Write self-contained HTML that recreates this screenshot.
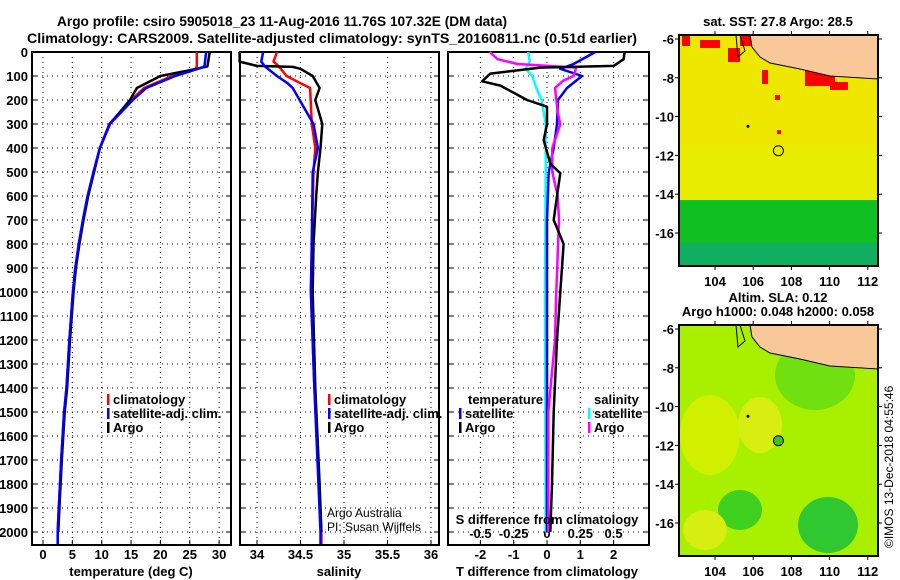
<!DOCTYPE html>
<html><head><meta charset="utf-8"><style>
html,body{margin:0;padding:0;background:#fff}
svg{display:block;font-family:"Liberation Sans",sans-serif}
.t{font-weight:bold;font-size:14px}
.tk{font-weight:bold;font-size:13px}
.g{stroke:#000;stroke-width:1;stroke-dasharray:1,4}
</style></head><body>
<svg id="c" width="900" height="580" viewBox="0 0 900 580">
<text class="t" x="57" y="26" textLength="450" lengthAdjust="spacingAndGlyphs">Argo profile: csiro 5905018_23 11-Aug-2016 11.76S 107.32E (DM data)</text>
<text class="t" x="27" y="43" textLength="610" lengthAdjust="spacingAndGlyphs">Climatology: CARS2009. Satellite-adjusted climatology: synTS_20160811.nc (0.51d earlier)</text>
<g id="p1"></g>
<g id="p2"></g>
<g id="p3"></g>
<g id="maps"></g>
<text x="0" y="0" transform="translate(893,548) rotate(-90)" style="font-size:12px">©IMOS 13-Dec-2018 04:55:46</text>
</svg>
<script>
// ---- data ----
const depthTicks=[0,100,200,300,400,500,600,700,800,900,1000,1100,1200,1300,1400,1500,1600,1700,1800,1900,2000];
const tempTicks=[0,5,10,15,20,25,30];
const salTicks=[34,34.5,35,35.5,36];
const salTickLabels=["34","34.5","35","35.5","36"];
const tdTicks=[-2,-1,0,1,2];
const sdTicks=[-0.5,-0.25,0,0.25,0.5];
const sdTickLabels=["-0.5","-0.25","0","0.25","0.5"];
// temperature profiles
const tArgoDepth=[0,60,70,100,150,200,300,400,500,600,700,800,900,1000,1200,1400,1500,1700,1900,2000];
const tArgo=[28.4,28.0,26.2,20.0,16.0,14.8,11.4,9.7,8.7,7.7,6.9,6.2,5.6,5.2,4.6,4.1,3.7,3.2,2.8,2.6];
const tClimDepth=[0,60,70,100,150,200,300,400,500,600,700,800,900,1000,1200,1400,1500,1700,1900,2000,2050];
const tClim=[26.2,26.2,26.0,22.0,17.2,15.0,11.3,9.7,8.6,7.6,6.8,6.1,5.5,5.1,4.5,4.0,3.6,3.1,2.7,2.5,2.5];
const tSat=[27.8,27.5,26.4,22.5,17.6,15.3,11.4,9.7,8.6,7.6,6.8,6.1,5.5,5.1,4.5,4.0,3.6,3.1,2.7,2.5,2.5];
// salinity profiles
const sArgoDepth=[0,40,58,62,70,100,150,200,300,400,500,600,800,1000,1400,1800,2000];
const sArgo=[33.8,33.8,34.0,34.41,34.5,34.64,34.72,34.67,34.75,34.73,34.7,34.68,34.65,34.64,34.67,34.72,34.74];
const sClimDepth=[0,40,60,100,130,150,300,400,500,800,1000,1400,2000,2050];
const sClim=[34.23,34.19,34.25,34.34,34.5,34.61,34.63,34.67,34.65,34.63,34.62,34.66,34.74,34.74];
const sSat=[34.07,34.05,34.09,34.23,34.35,34.41,34.65,34.7,34.64,34.63,34.62,34.66,34.73,34.73];
// difference profiles
const dTArgoDepth=[0,30,58,65,90,122,140,185,200,228,300,367,465,505,600,700,800,1000,1200,1500,1800,2000];
const dTArgo=[2.33,2.3,2.0,-0.2,-1.7,-1.95,-1.4,-0.8,-0.6,0,0,-0.1,0.1,0.4,0.3,0.2,0.5,0.4,0.3,0.2,0.15,0.1];
const dTSatDepth=[0,50,70,100,150,200,300,400,500,700,1000,2000];
const dTSat=[1.45,0.8,0.4,1.05,0.6,0.33,0.3,0.2,0.05,0,0,0];
const dSArgoDepth=[0,30,50,65,100,120,150,250,300,400,500,600,700,1000,1200,1500,2000];
const dSArgo=[-0.43,-0.37,-0.22,0.22,0.2,0.12,0.06,0.08,0.1,0.04,0.04,0.08,0.09,0.07,0.06,0.01,0.01];
const dSSatDepth=[0,40,70,100,150,200,300,500,1000,2000];
const dSSat=[-0.14,-0.13,-0.16,-0.11,-0.08,-0.04,-0.01,-0.01,-0.015,-0.01];

const NS="http://www.w3.org/2000/svg";
function mk(tag,attrs,parent,txt){const e=document.createElementNS(NS,tag);for(const k in attrs)e.setAttribute(k,attrs[k]);if(txt!==undefined)e.textContent=txt;parent.appendChild(e);return e;}
const yD=d=>52+d*0.24;
function panel(g,x0,x1,name){
  mk('rect',{x:x0,y:52,width:x1-x0,height:493,fill:'none',stroke:'#000','stroke-width':2},g);
  depthTicks.forEach(d=>{const l=mk('line',{x1:x0,x2:x1,y1:yD(d),y2:yD(d),class:'g'},g);
    
    mk('line',{x1:x0,x2:x0+5,y1:yD(d),y2:yD(d),stroke:'#000'},g);mk('line',{x1:x1-5,x2:x1,y1:yD(d),y2:yD(d),stroke:'#000'},g);});
}
function line(g,xs,ds,xf,col,name,w){
  const pts=xs.map((v,i)=>xf(v).toFixed(1)+','+yD(ds[i]).toFixed(1)).join(' ');
  const p=mk('polyline',{points:pts,fill:'none',stroke:col,'stroke-width':w||2.5,'stroke-linejoin':'round'},g);
  
  
}
function xticks(g,ticks,labels,xf,y,name){
  ticks.forEach((t,i)=>{const x=xf(t);
    const gl=mk('line',{x1:x,x2:x,y1:52,y2:545,class:'g'},g);
    
    mk('line',{x1:x,x2:x,y1:540,y2:545,stroke:'#000'},g);
    const tx=mk('text',{x:x,y:y,'text-anchor':'middle',class:'tk'},g,labels[i]);
    
    });
}
function legend(g,x,y,items){
  items.forEach((it,i)=>{const yy=y+i*14;
    mk('rect',{x:x,y:yy-10,width:2.5,height:11,fill:it[1]},g);
    const t=mk('text',{x:x+6,y:yy,class:'tk'},g,it[0]);
    
    });
}
// panel 1
const p1=document.getElementById('p1');
const xT=t=>43+t*5.87;
panel(p1,32,231,'temperature');
xticks(p1,tempTicks,tempTicks.map(String),xT,559,'temperature');
depthTicks.forEach(d=>{const t=mk('text',{x:28,y:yD(d)+5,'text-anchor':'end',class:'tk'},p1,String(d));
  });
line(p1,tClim,tClimDepth,xT,'#f00','temp-climatology-line');
line(p1,tArgo,tArgoDepth,xT,'#000','temp-argo-line');
line(p1,tSat,tClimDepth,xT,'#00f','temp-satellite-line');
legend(p1,107,404,[['climatology','#f00'],['satellite-adj. clim.','#00f'],['Argo','#000']]);
mk('text',{x:131,y:576,'text-anchor':'middle',class:'tk'},p1,'temperature (deg C)');
// panel 2
const p2=document.getElementById('p2');
const xS=s=>257+(s-34)*87;
panel(p2,240,439,'salinity');
xticks(p2,salTicks,salTickLabels,xS,559,'salinity');
line(p2,sClim,sClimDepth,xS,'#f00','sal-climatology-line');
line(p2,sArgo,sArgoDepth,xS,'#000','sal-argo-line');
line(p2,sSat,sClimDepth,xS,'#00f','sal-satellite-line');
legend(p2,328,404,[['climatology','#f00'],['satellite-adj. clim.','#00f'],['Argo','#000']]);
mk('text',{x:327,y:517,style:'font-size:12px'},p2,'Argo Australia');
mk('text',{x:327,y:531,style:'font-size:12px'},p2,'PI: Susan Wijffels');
mk('text',{x:339,y:576,'text-anchor':'middle',class:'tk'},p2,'salinity');
// panel 3
const p3=document.getElementById('p3');
const xDT=t=>547+t*33.3, xDS=s=>547+s*133.2;
mk('rect',{x:448,y:52,width:201,height:493,fill:'none',stroke:'#000','stroke-width':2},p3);
depthTicks.forEach(d=>{mk('line',{x1:448,x2:649,y1:yD(d),y2:yD(d),class:'g'},p3);mk('line',{x1:448,x2:453,y1:yD(d),y2:yD(d),stroke:'#000'},p3);mk('line',{x1:644,x2:649,y1:yD(d),y2:yD(d),stroke:'#000'},p3);});
xticks(p3,tdTicks,tdTicks.map(String),xDT,559,'t-diff');
sdTicks.forEach((s,i)=>{const t=mk('text',{x:xDS(s),y:538,'text-anchor':'middle',class:'tk'},p3,sdTickLabels[i]);
  });
line(p3,dSSat,dSSatDepth,xDS,'#0ff','sdiff-satellite-line');
line(p3,dTSat,dTSatDepth,xDT,'#00f','tdiff-satellite-line');
line(p3,dSArgo,dSArgoDepth,xDS,'#f0f','sdiff-argo-line');
line(p3,dTArgo,dTArgoDepth,xDT,'#000','tdiff-argo-line');
mk('text',{x:468,y:404,class:'tk'},p3,'temperature');
legend(p3,459,418,[['satellite','#00f'],['Argo','#000']]);
mk('text',{x:594,y:404,class:'tk'},p3,'salinity');
legend(p3,588,418,[['satellite','#0ff'],['Argo','#f0f']]);
mk('text',{x:547,y:524,'text-anchor':'middle',class:'tk'},p3,'S difference from climatology');
mk('text',{x:547,y:576,'text-anchor':'middle',class:'tk'},p3,'T difference from climatology');
// maps
const mg=document.getElementById('maps');
const mapLon=[104,106,108,110,112], mapLat=[-6,-8,-10,-12,-14,-16];
const xL=l=>715+(l-104)*19.1;
function map(y0,type){
  const top=y0, yLat=la=>top+4+(-6-la)*19.4;
  const g=mk('g',{},mg);  
  if(type==='sst'){
    mk('rect',{x:679,y:top,width:199,height:231,fill:'#eee800'},g);
    mk('rect',{x:679,y:yLat(-11.5),width:199,height:yLat(-14.3)-yLat(-11.5),fill:'#e6f000',opacity:0.7},g);
    mk('rect',{x:679,y:yLat(-14.3),width:199,height:top+231-yLat(-14.3),fill:'#10c020'},g);
    mk('rect',{x:679,y:yLat(-16.5),width:199,height:top+231-yLat(-16.5),fill:'#10b060'},g);
    [[682,36,8,10],[700,40,20,8],[728,48,12,14],[740,36,30,10],[800,40,30,12],[805,70,30,16],[762,70,6,14],[830,82,18,8],[775,95,5,5]].forEach(r=>mk('rect',{x:r[0],y:r[1],width:r[2],height:r[3],fill:'#f00'},g));
  } else {
    mk('rect',{x:679,y:top,width:199,height:231,fill:'#a8f000'},g);
    mk('ellipse',{cx:710,cy:top+110,rx:30,ry:40,fill:'#d0f000'},g);
    mk('ellipse',{cx:760,cy:top+100,rx:22,ry:28,fill:'#d8ee10'},g);
    mk('ellipse',{cx:740,cy:top+185,rx:22,ry:20,fill:'#40d020'},g);
    mk('ellipse',{cx:828,cy:top+200,rx:30,ry:28,fill:'#30c830'},g);
    mk('ellipse',{cx:815,cy:top+50,rx:40,ry:35,fill:'#70e010'},g);
    mk('ellipse',{cx:705,cy:top+205,rx:22,ry:20,fill:'#d8ee10'},g);
  }
  mk('polygon',{points:`750,${top} 878,${top} 878,${top+44} 830,${top+41} 800,${top+34} 770,${top+28} 760,${top+22} 752,${top+12}`,fill:'#f8c898',stroke:'#000','stroke-width':1},g);
  mk('polygon',{points:`740,${top} 745,${top+16} 738,${top+22} 736,${top}`,fill:'none',stroke:'#000'},g);
  mk('circle',{cx:748,cy:yLat(-10.5),r:1.5,fill:'#000'},g);
  const c=mk('circle',{cx:xL(107.32),cy:yLat(-11.76),r:5,fill:type==='sst'?'none':'#40c020',stroke:'#000'},g);
  
  if(type==='sst') mk('rect',{x:777,y:yLat(-10.8)-2,width:4,height:4,fill:'#f00'},g);
  mk('rect',{x:679,y:top,width:199,height:231,fill:'none',stroke:'#000','stroke-width':2},g);
  mapLon.forEach(l=>{mk('line',{x1:xL(l),x2:xL(l),y1:top,y2:top-4,stroke:'#000'},g);mk('line',{x1:xL(l),x2:xL(l),y1:top+231,y2:top+235,stroke:'#000'},g);
    const t=mk('text',{x:xL(l),y:top+251,'text-anchor':'middle',class:'tk'},g,String(l));});
  mapLat.forEach(la=>{mk('line',{x1:675,x2:679,y1:yLat(la),y2:yLat(la),stroke:'#000'},g);mk('line',{x1:878,x2:882,y1:yLat(la),y2:yLat(la),stroke:'#000'},g);
    const t=mk('text',{x:674,y:yLat(la)+5,'text-anchor':'end',class:'tk'},g,String(la));});
}
map(35,'sst'); map(325,'sla');
mk('text',{x:778,y:26,'text-anchor':'middle',class:'tk'},mg,'sat. SST: 27.8 Argo: 28.5');
mk('text',{x:778,y:302,'text-anchor':'middle',class:'tk'},mg,'Altim. SLA: 0.12');
mk('text',{x:778,y:316,'text-anchor':'middle',class:'tk'},mg,'Argo h1000: 0.048 h2000: 0.058');
</script>
</body></html>
